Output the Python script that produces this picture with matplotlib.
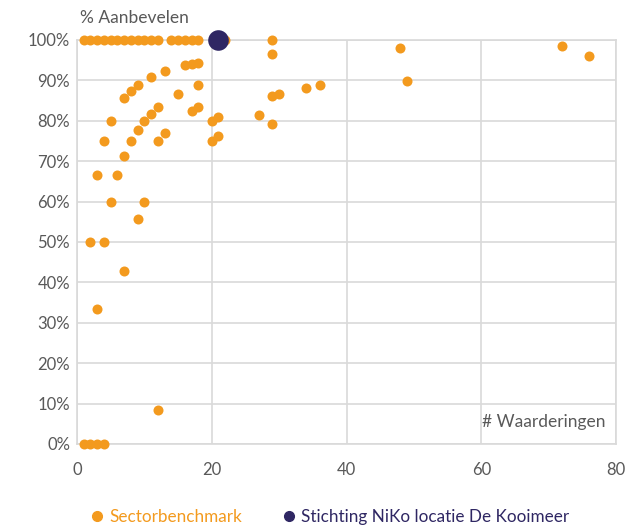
import matplotlib
matplotlib.use("Agg")
import matplotlib.pyplot as plt
from matplotlib.ticker import PercentFormatter
from matplotlib.lines import Line2D

# Sector benchmark: number of ratings (x) and % recommending (y)
bench_x = [1, 2, 3, 4, 5, 6, 7, 8, 9, 10, 11, 12, 14, 15, 16, 17, 18, 22, 29,
           13, 16, 17, 18, 11, 9, 8, 7, 15, 18, 5, 12, 11, 10, 9, 8, 4, 12, 13,
           17, 18, 20, 21, 20, 21, 27, 29, 29, 30, 34, 36, 29, 48, 49, 72, 76,
           7, 3, 6, 5, 10, 9, 2, 4, 7, 3, 12, 1, 2, 3, 4]
bench_y = [100, 100, 100, 100, 100, 100, 100, 100, 100, 100, 100, 100, 100, 100, 100, 100, 100, 100, 100,
           92.3, 93.75, 94.1, 94.4, 90.9, 88.9, 87.5, 85.7, 86.7, 88.9, 80, 83.3, 81.8, 80, 77.8, 75, 75, 75, 76.9,
           82.4, 83.3, 80, 81.0, 75, 76.2, 81.5, 96.6, 86.2, 86.7, 88.2, 88.9, 79.3, 97.9, 89.8, 98.6, 96.1,
           71.4, 66.7, 66.7, 60, 60, 55.6, 50, 50, 42.9, 33.3, 8.3, 0, 0, 0, 0]

# Organisation
org_x = [21]
org_y = [100]

x_ticks = [0, 20, 40, 60, 80]
y_ticks = [0, 10, 20, 30, 40, 50, 60, 70, 80, 90, 100]

ORANGE = "#F39A1E"
PURPLE = "#2F2763"
TXT = "#595959"
GRID = "#D9D9D9"

plt.rcParams['font.family'] = ['Lato', 'DejaVu Sans']

fig = plt.figure(figsize=(6.31, 5.26), dpi=100)
ax = fig.add_axes([77/631, 82/526, (616-77)/631, (444-40)/526])

ax.scatter(bench_x, bench_y, s=52, color=ORANGE, zorder=3, clip_on=False, linewidths=0)
ax.scatter(org_x, org_y, s=220, color=PURPLE, zorder=4, clip_on=False, linewidths=0)

ax.set_xlim(0, 80)
ax.set_ylim(0, 100)
ax.set_xticks(x_ticks)
ax.set_yticks(y_ticks)
ax.yaxis.set_major_formatter(PercentFormatter(decimals=0))
ax.grid(True, color=GRID, linewidth=1.2, zorder=0)
for s in ax.spines.values():
    s.set_color(GRID)
    s.set_linewidth(1.2)
ax.tick_params(length=0, labelsize=12, colors=TXT)
ax.tick_params(axis='y', pad=5)
ax.tick_params(axis='x', pad=13)

fig.text(80/631, 1 - 18/526, "% Aanbevelen", fontsize=12.5, color=TXT, va='center', ha='left')
ax.text(606/631, 1 - 422/526, "# Waarderingen", fontsize=12.5, color=TXT, va='center', ha='right',
        transform=fig.transFigure)

handles = [Line2D([], [], marker='o', linestyle='', color=ORANGE, markersize=7),
           Line2D([], [], marker='o', linestyle='', color=PURPLE, markersize=7)]
leg = fig.legend(handles, ["Sectorbenchmark", "Stichting NiKo locatie De Kooimeer"],
                 loc='center', bbox_to_anchor=(0.52, 1 - 517/526), ncol=2, frameon=False,
                 fontsize=12.3, handletextpad=0.1, columnspacing=2.2, handlelength=1.2)
for t, c in zip(leg.get_texts(), [ORANGE, PURPLE]):
    t.set_color(c)

fig.savefig("out.png", dpi=100)
